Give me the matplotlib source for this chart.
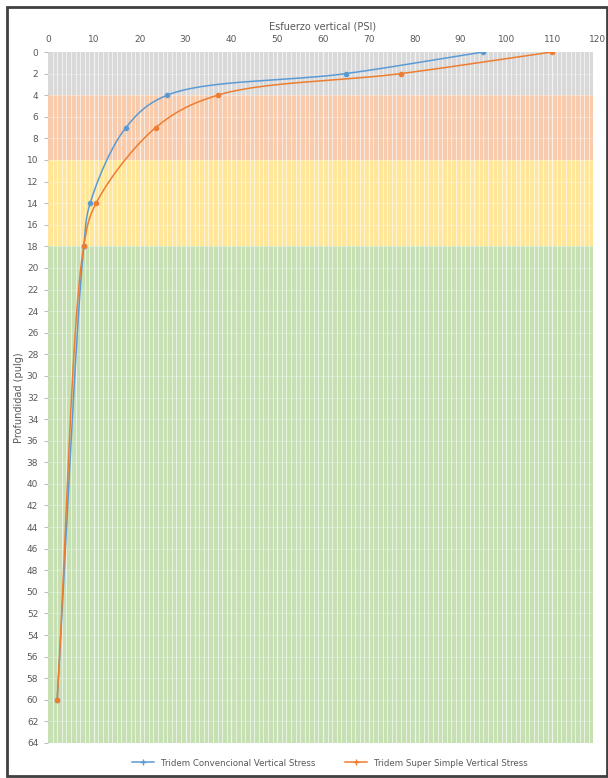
import numpy as np
import matplotlib
matplotlib.use("Agg")
import matplotlib.pyplot as plt
from matplotlib.patches import Rectangle

# ---- data ----
depth = [0, 2, 4, 7, 14, 18, 60]
conv_stress = [95, 65, 26, 17, 9.2, 7.8, 2.0]
simple_stress = [110, 77, 37, 23.5, 10.5, 7.8, 2.0]
series_names = ["Tridem Convencional Vertical Stress", "Tridem Super Simple Vertical Stress"]
band_edges = [0, 4, 10, 18, 64]
band_colors = ["#d9d9d9", "#f8cbad", "#ffe699", "#c6e0b4"]
x_ticks = list(range(0, 121, 10))
y_ticks = list(range(0, 65, 2))

SX, SY = 4.58, 10.8  # display scale used only for curve smoothing


def smooth(xs, ys, n=40, alpha=0.5):
    # centripetal Catmull-Rom smoothing (Excel "smoothed line" look)
    P = np.column_stack([np.asarray(xs) * SX, np.asarray(ys) * SY]).astype(float)
    P = np.vstack([P[0] - (P[1] - P[0]), P, P[-1] + (P[-1] - P[-2])])
    out = []
    for i in range(1, len(P) - 2):
        p0, p1, p2, p3 = P[i - 1], P[i], P[i + 1], P[i + 2]
        t0 = 0.0
        t1 = t0 + np.linalg.norm(p1 - p0) ** alpha
        t2 = t1 + np.linalg.norm(p2 - p1) ** alpha
        t3 = t2 + np.linalg.norm(p3 - p2) ** alpha
        t = np.linspace(t1, t2, n)[:, None]
        a1 = (t1 - t) / (t1 - t0) * p0 + (t - t0) / (t1 - t0) * p1
        a2 = (t2 - t) / (t2 - t1) * p1 + (t - t1) / (t2 - t1) * p2
        a3 = (t3 - t) / (t3 - t2) * p2 + (t - t2) / (t3 - t2) * p3
        b1 = (t2 - t) / (t2 - t0) * a1 + (t - t0) / (t2 - t0) * a2
        b2 = (t3 - t) / (t3 - t1) * a2 + (t - t1) / (t3 - t1) * a3
        c = (t2 - t) / (t2 - t1) * b1 + (t - t1) / (t2 - t1) * b2
        out.append(c if i == 1 else c[1:])
    out = np.vstack(out)
    return out[:, 0] / SX, out[:, 1] / SY


fig = plt.figure(figsize=(6.08, 7.78), dpi=100)
ax = fig.add_axes([48 / 608, 1 - 743 / 778, 550 / 608, 691 / 778])

for (y0, y1), c in zip(zip(band_edges[:-1], band_edges[1:]), band_colors):
    ax.axhspan(y0, y1, xmin=0, xmax=119 / 120, color=c, zorder=0, lw=0)

# white grid lines
for xv in np.arange(1, 119, 1):
    ax.axvline(xv, color="white", lw=0.6 if xv % 10 else 0.9, alpha=0.7, zorder=1)
for yv in y_ticks[1:-1]:
    ax.axhline(yv, color="white", lw=0.5, alpha=0.45, zorder=1)

colors = ["#5b9bd5", "#ed7d31"]
for xs, name, c in zip([conv_stress, simple_stress], series_names, colors):
    sx, sy = smooth(xs, depth)
    ax.plot(sx, sy, color=c, lw=1.1, zorder=3)
    ax.plot(xs, depth, ls="none", marker="o", ms=3.0, color=c, zorder=4)
    ax.plot([], [], color=c, lw=1.1, marker="+", ms=5, label=name)

ax.set_xlim(0, 120)
ax.set_ylim(64, 0)
ax.xaxis.tick_top()
ax.xaxis.set_label_position("top")
ax.set_xticks(x_ticks)
ax.set_yticks(y_ticks)
ax.tick_params(axis="x", length=0, labelsize=6.5, labelcolor="#595959", pad=6)
ax.tick_params(axis="y", length=3, color="#bfbfbf", labelsize=6.5, labelcolor="#595959", pad=4)
for s in ax.spines.values():
    s.set_visible(False)
ax.set_xlabel("Esfuerzo vertical (PSI)", fontsize=7, color="#595959", labelpad=4)
ax.set_ylabel("Profundidad (pulg)", fontsize=7, color="#595959", labelpad=2)

leg = fig.legend(loc="center", bbox_to_anchor=(330 / 608, 1 - 763 / 778), ncol=2,
                 frameon=False, fontsize=6.2, handlelength=2.5, columnspacing=3.5)
for t in leg.get_texts():
    t.set_color("#595959")

fig.patches.append(Rectangle((7 / 608, 2 / 778), 600 / 608, 769 / 778, transform=fig.transFigure,
                             fill=False, edgecolor="#404040", lw=2))

fig.savefig("out.png", dpi=100)
